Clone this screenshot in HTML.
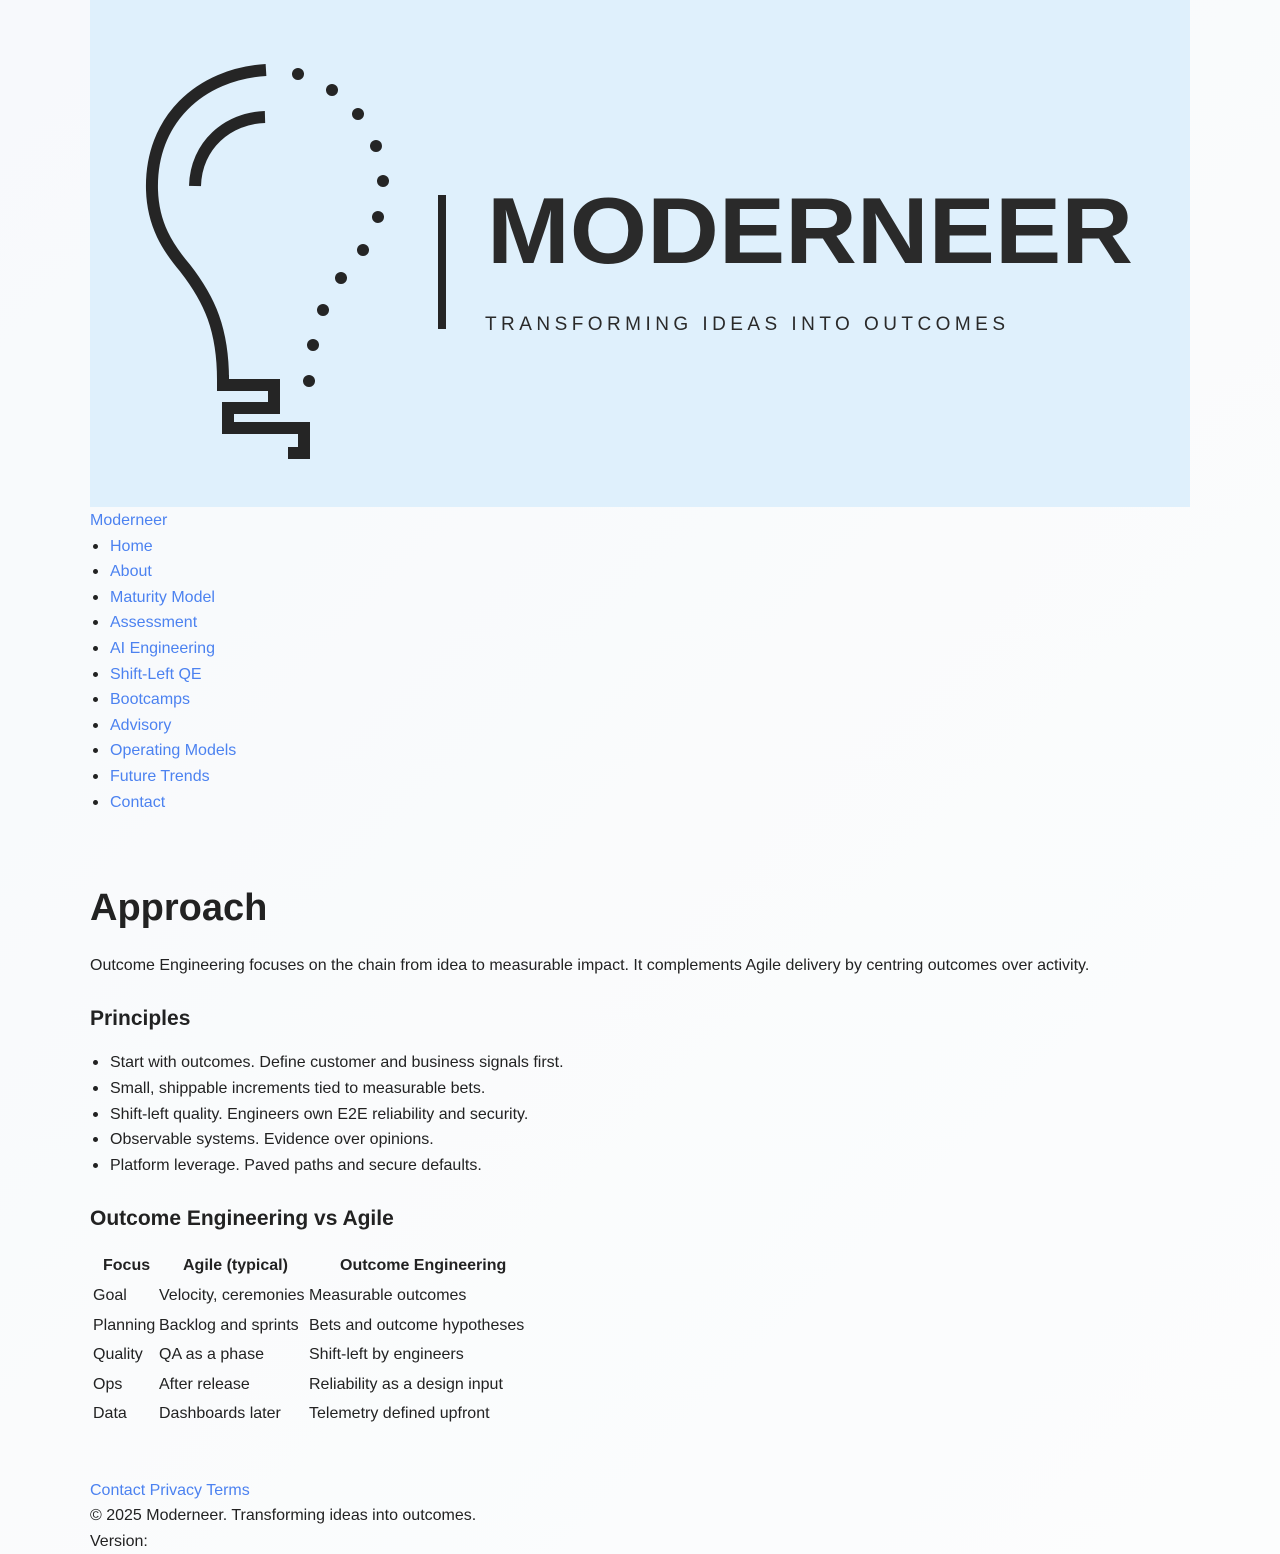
<!DOCTYPE html>
<html><head><meta charset="utf-8"><style>
html,body{margin:0;padding:0}
body{width:1280px;height:1554px;position:relative;overflow:hidden;background:linear-gradient(135deg,#f7f9fc,#fcfdfd);font-family:"Liberation Sans",sans-serif;color:#222;font-size:16px}
.t{position:absolute;line-height:20px;white-space:nowrap;margin-top:2px}
.a{color:#4c82f0}
.b{position:absolute;width:5px;height:5px;border-radius:50%;background:#222;margin-top:1px}
</style></head><body>
<svg style="position:absolute;left:0;top:0" width="1280" height="510">
<rect x="90" y="0" width="1100" height="507" fill="#dff0fc"/>
<g fill="none" stroke="#252525" stroke-width="12">
<path d="M266 70 C200 74 150 120 152 190 C153 225 168 248 185 268 C210 300 223 330 223 380"/>
<path d="M265 117 C228 118 196 145 195 186"/>
<path d="M223 375 V385 H274 V408 H228 V428 H304 V453 H288" stroke-linejoin="miter"/>
</g>
<g fill="#252525">
<circle cx="298" cy="74" r="6"/><circle cx="332" cy="90" r="6"/><circle cx="358" cy="114" r="6"/>
<circle cx="376" cy="146" r="6"/><circle cx="383" cy="181" r="6"/><circle cx="378" cy="217" r="6"/>
<circle cx="363" cy="250" r="6"/><circle cx="341" cy="278" r="6"/><circle cx="323" cy="310" r="6"/>
<circle cx="313" cy="345" r="6"/><circle cx="309" cy="381" r="6"/>
<rect x="438" y="195" width="8" height="134"/>
<text x="487" y="263" font-family="Liberation Sans" font-weight="bold" font-size="94" textLength="646" lengthAdjust="spacingAndGlyphs" fill="#2a2a2a">MODERNEER</text>
<text x="485" y="330" font-family="Liberation Sans" font-size="19" textLength="520" lengthAdjust="spacing" fill="#2a2a2a">TRANSFORMING IDEAS INTO OUTCOMES</text>
</g>
</svg>
<div class="t a" style="left:90px;top:509px">Moderneer</div>
<div class="b" style="left:93px;top:543px"></div><div class="t a" style="left:110px;top:535px">Home</div>
<div class="b" style="left:93px;top:568px"></div><div class="t a" style="left:110px;top:560px">About</div>
<div class="b" style="left:93px;top:594px"></div><div class="t a" style="left:110px;top:586px">Maturity Model</div>
<div class="b" style="left:93px;top:619px"></div><div class="t a" style="left:110px;top:611px">Assessment</div>
<div class="b" style="left:93px;top:645px"></div><div class="t a" style="left:110px;top:637px">AI Engineering</div>
<div class="b" style="left:93px;top:671px"></div><div class="t a" style="left:110px;top:663px">Shift-Left QE</div>
<div class="b" style="left:93px;top:696px"></div><div class="t a" style="left:110px;top:688px">Bootcamps</div>
<div class="b" style="left:93px;top:722px"></div><div class="t a" style="left:110px;top:714px">Advisory</div>
<div class="b" style="left:93px;top:747px"></div><div class="t a" style="left:110px;top:739px">Operating Models</div>
<div class="b" style="left:93px;top:773px"></div><div class="t a" style="left:110px;top:765px">Future Trends</div>
<div class="b" style="left:93px;top:799px"></div><div class="t a" style="left:110px;top:791px">Contact</div>

<div class="t" style="left:90px;top:884px;line-height:44px;font-size:38px;font-weight:bold">Approach</div>
<div class="t" style="left:90px;top:954px">Outcome Engineering focuses on the chain from idea to measurable impact. It complements Agile delivery by centring outcomes over activity.</div>
<div class="t" style="left:90px;top:1004px;line-height:26px;font-size:21px;font-weight:bold">Principles</div>
<div class="b" style="left:93px;top:1059px"></div><div class="t" style="left:110px;top:1051px">Start with outcomes. Define customer and business signals first.</div>
<div class="b" style="left:93px;top:1085px"></div><div class="t" style="left:110px;top:1077px">Small, shippable increments tied to measurable bets.</div>
<div class="b" style="left:93px;top:1111px"></div><div class="t" style="left:110px;top:1103px">Shift-left quality. Engineers own E2E reliability and security.</div>
<div class="b" style="left:93px;top:1136px"></div><div class="t" style="left:110px;top:1128px">Observable systems. Evidence over opinions.</div>
<div class="b" style="left:93px;top:1162px"></div><div class="t" style="left:110px;top:1154px">Platform leverage. Paved paths and secure defaults.</div>
<div class="t" style="left:90px;top:1204px;line-height:26px;font-size:21px;font-weight:bold">Outcome Engineering vs Agile</div>

<div class="t" style="left:103px;top:1254px;font-weight:bold">Focus</div>
<div class="t" style="left:183px;top:1254px;font-weight:bold">Agile (typical)</div>
<div class="t" style="left:340px;top:1254px;font-weight:bold">Outcome Engineering</div>
<div class="t" style="left:93px;top:1284px">Goal</div><div class="t" style="left:159px;top:1284px">Velocity, ceremonies</div><div class="t" style="left:309px;top:1284px">Measurable outcomes</div>
<div class="t" style="left:93px;top:1314px">Planning</div><div class="t" style="left:159px;top:1314px">Backlog and sprints</div><div class="t" style="left:309px;top:1314px">Bets and outcome hypotheses</div>
<div class="t" style="left:93px;top:1343px">Quality</div><div class="t" style="left:159px;top:1343px">QA as a phase</div><div class="t" style="left:309px;top:1343px">Shift-left by engineers</div>
<div class="t" style="left:93px;top:1373px">Ops</div><div class="t" style="left:159px;top:1373px">After release</div><div class="t" style="left:309px;top:1373px">Reliability as a design input</div>
<div class="t" style="left:93px;top:1402px">Data</div><div class="t" style="left:159px;top:1402px">Dashboards later</div><div class="t" style="left:309px;top:1402px">Telemetry defined upfront</div>

<div class="t a" style="left:90px;top:1479px">Contact Privacy Terms</div>
<div class="t" style="left:90px;top:1504px">© 2025 Moderneer. Transforming ideas into outcomes.</div>
<div class="t" style="left:90px;top:1530px">Version:</div>
</body></html>
